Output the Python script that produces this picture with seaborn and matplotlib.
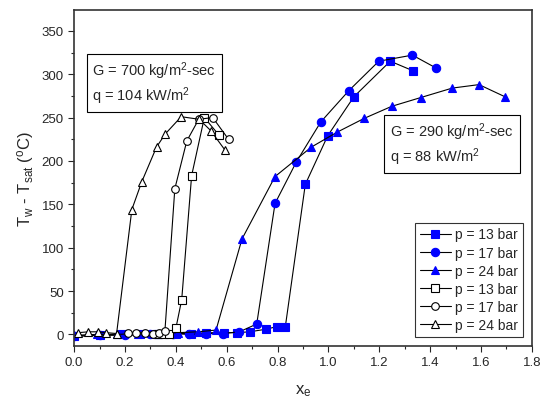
import numpy as np
import pandas as pd
import matplotlib
matplotlib.use("Agg")
import matplotlib.pyplot as plt
from matplotlib.ticker import MultipleLocator
import seaborn as sns

# G = 290 kg/m2-sec, q = 88 kW/m2 (cheios, azul)
x_13_290 = [0.0, 0.10, 0.19, 0.26, 0.32, 0.40, 0.46, 0.52, 0.59, 0.64, 0.69, 0.755, 0.797, 0.83, 0.909, 0.997, 1.10, 1.243, 1.332]
t_13_290 = [-2, -1, 0, 0, 1, 1, 1, 2, 2, 2, 3, 6, 9, 8, 173, 229, 274, 315, 304]
x_17_290 = [0.0, 0.10, 0.20, 0.30, 0.39, 0.45, 0.52, 0.585, 0.65, 0.718, 0.79, 0.874, 0.97, 1.08, 1.198, 1.33, 1.424]
t_17_290 = [-2, -1, -1, 0, 1, 0, 1, 1, 3, 12, 151, 199, 245, 281, 315, 322, 307]
x_24_290 = [0.0, 0.09, 0.17, 0.25, 0.33, 0.41, 0.486, 0.558, 0.66, 0.79, 0.933, 1.033, 1.14, 1.249, 1.362, 1.487, 1.592, 1.694]
t_24_290 = [-1, 0, 0, 1, 1, 2, 3, 5, 110, 182, 216, 233, 249, 263, 273, 284, 288, 274]

# G = 700 kg/m2-sec, q = 104 kW/m2 (vazios)
x_13_700 = [0.33, 0.352, 0.374, 0.40, 0.423, 0.462, 0.512, 0.569]
t_13_700 = [1, 1, 1, 7, 40, 183, 250, 230]
x_17_700 = [0.21, 0.243, 0.278, 0.311, 0.335, 0.357, 0.396, 0.443, 0.49, 0.545, 0.607]
t_17_700 = [2, 2, 2, 1, 2, 4, 168, 223, 248, 250, 225]
x_24_700 = [0.016, 0.056, 0.092, 0.127, 0.167, 0.227, 0.266, 0.324, 0.358, 0.421, 0.492, 0.537, 0.592]
t_24_700 = [2, 3, 3, 2, 1, 144, 176, 216, 231, 251, 248, 235, 213]

series = [
    (x_13_290, t_13_290, 's', True, 'p = 13 bar'),
    (x_17_290, t_17_290, 'o', True, 'p = 17 bar'),
    (x_24_290, t_24_290, '^', True, 'p = 24 bar'),
    (x_13_700, t_13_700, 's', False, 'p = 13 bar'),
    (x_17_700, t_17_700, 'o', False, 'p = 17 bar'),
    (x_24_700, t_24_700, '^', False, 'p = 24 bar'),
]

sns.set_style('ticks')
plt.rcParams['font.family'] = ['Liberation Sans', 'DejaVu Sans']
plt.rcParams['mathtext.fontset'] = 'custom'
plt.rcParams['mathtext.rm'] = 'Liberation Sans'
plt.rcParams['mathtext.it'] = 'Liberation Sans'

fig = plt.figure(figsize=(5.45, 4.02), dpi=100)
ax = fig.add_axes([0.136, 0.1376, 0.84, 0.835])

for xs, ts, mk, cheio, nome in series:
    df = pd.DataFrame({'x': xs, 't': ts})
    if cheio:
        fc, ec, ms = 'blue', 'blue', 6
    else:
        fc, ec, ms = 'white', 'black', 5.5
    sns.lineplot(data=df, x='x', y='t', sort=False, ax=ax, color='black',
                 lw=0.8, marker=mk, markersize=ms, markerfacecolor=fc,
                 markeredgecolor=ec, markeredgewidth=0.8, label=nome)

ax.set_xlim(0, 1.8)
ax.set_ylim(-13, 374)
ax.xaxis.set_major_locator(MultipleLocator(0.2))
ax.xaxis.set_minor_locator(MultipleLocator(0.1))
ax.yaxis.set_major_locator(MultipleLocator(50))
ax.yaxis.set_minor_locator(MultipleLocator(25))
ax.xaxis.set_major_formatter(matplotlib.ticker.FormatStrFormatter('%.1f'))
ax.tick_params(which='major', length=4, width=0.8, labelsize=9.5, direction='out')
ax.tick_params(which='minor', length=2.5, width=0.8, direction='out')
for s in ax.spines.values():
    s.set_visible(True)
    s.set_linewidth(1.2)
    s.set_color('#333333')

ax.set_xlabel('x$_e$', fontsize=12, labelpad=10)
ax.set_ylabel('T$_w$ - T$_{sat}$ ($^o$C)', fontsize=12, labelpad=4)

ax.text(0.072, 290, 'G = 700 kg/m$^2$-sec\nq = 104 kW/m$^2$', fontsize=10.5,
        va='center', ha='left', linespacing=1.2,
        bbox=dict(boxstyle='square,pad=0.4', fc='white', ec='black', lw=0.8))
ax.text(1.242, 220, 'G = 290 kg/m$^2$-sec\nq = 88 kW/m$^2$', fontsize=10.5,
        va='center', ha='left', linespacing=1.2,
        bbox=dict(boxstyle='square,pad=0.4', fc='white', ec='black', lw=0.8))

leg = ax.legend(loc='lower right', fontsize=10, frameon=True, fancybox=False,
                edgecolor='black', handlelength=2.2, handletextpad=0.3,
                labelspacing=0.3, borderpad=0.35, bbox_to_anchor=(0.995, 0.005))
leg.get_frame().set_linewidth(0.8)

plt.savefig('out.png', dpi=100)
plt.close()
